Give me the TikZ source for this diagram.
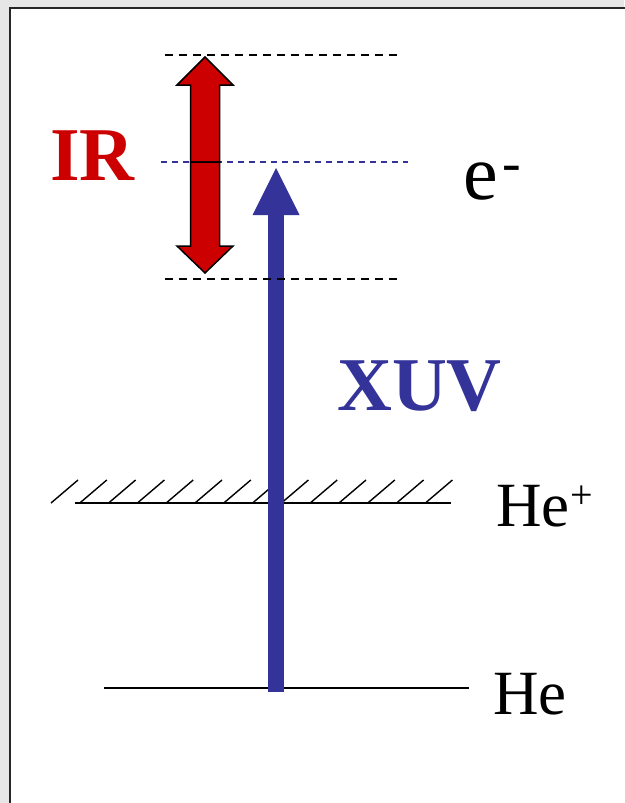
\documentclass[tikz,border=0pt]{standalone}
\usepackage{fontspec}
\setmainfont{Liberation Serif}
\usetikzlibrary{arrows.meta}
\definecolor{irred}{HTML}{CC0000}
\definecolor{xuvblue}{HTML}{333399}
\definecolor{framegray}{HTML}{E6E6E6}
\tikzset{
  level/.style={line width=1.8pt, draw=black},
  cont/.style={line width=1.3pt, draw=black, dash pattern=on 8pt off 6pt},
  contmid/.style={line width=1.2pt, draw=xuvblue, dash pattern=on 6pt off 5pt},
  hatch/.style={line width=1.4pt, draw=black},
  xuvarrow/.style={
    -{Triangle[width=47pt, length=47pt, line width=0pt]},
    line width=16pt, draw=xuvblue,
  },
  irhalf/.style={draw=black, fill=irred, line width=1.5pt, line join=miter},
  lbl/.style={anchor=base west, inner sep=0pt, font=\fontsize{63}{70}\selectfont},
  biglbl/.style={lbl, font=\fontsize{76}{84}\selectfont\bfseries},
}
\newcommand{\charge}[2]{\raisebox{#1}{\fontsize{40}{44}\selectfont #2}}
\begin{document}
\begin{tikzpicture}[x=1pt, y=-1pt]
  \useasboundingbox (0,0) rectangle (624,803);

  % slide frame
  \fill[framegray] (0,0) rectangle (624,803);
  \draw[line width=2.2pt, draw=black!85, fill=white] (10,8) rectangle (640,820);

  % levels
  \coordinate (he-l)  at (104,688);
  \coordinate (he-r)  at (469,688);
  \coordinate (hep-l) at (75,503);
  \coordinate (hep-r) at (451,503);
  \coordinate (xuv-base) at (276,692);
  \coordinate (xuv-tip)  at (276,168);
  \coordinate (ir-c)     at (205,162);

  \draw[level] (he-l) -- (he-r);
  \draw[level] (hep-l) -- (hep-r);
  \foreach \i in {0,...,13}
    \draw[hatch] (51+28.8*\i,503) -- ++(27,-23);

  % XUV photon
  \draw[xuvarrow] (xuv-base) -- (xuv-tip);

  % continuum, dressed by the IR
  \draw[cont]    (165,55)  -- (397,55);
  \draw[contmid] (161,162) -- (408,162);
  \draw[cont]    (165,279) -- (397,279);

  \foreach \tipy/\basey in {57/85, 273/246}
    \draw[irhalf] (ir-c |- 0,\tipy) -- (177,\basey) -- (190.5,\basey)
      -- (190.5,162) -- (219.5,162) -- (219.5,\basey) -- (233,\basey) -- cycle;

  % labels
  \node[biglbl, text=irred]   (ir)  at (50,180)  {IR};
  \node[biglbl, text=xuvblue] (xuv) at (337,410) {XUV};
  \node[lbl, font=\fontsize{78}{84}\selectfont] (el) at (463,199)
    {e\kern5pt\charge{18pt}{\fontsize{56}{60}\selectfont -}};
  \node[lbl] (hep) at (496,526) {He\kern1pt\charge{18pt}{+}};
  \node[lbl] (he)  at (493,714) {He};

\end{tikzpicture}
\end{document}
